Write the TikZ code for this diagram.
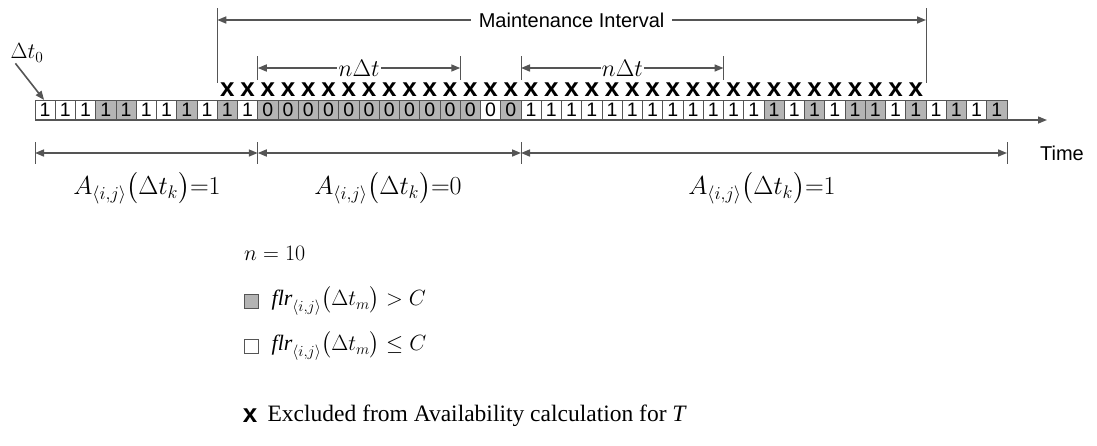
\RequirePackage{fix-cm}
\documentclass[tikz,border=0pt]{standalone}
\usepackage{amsmath,amssymb}
\usepackage{fontspec}
\setmainfont{Liberation Serif}
\newfontfamily\arialfont{Liberation Sans}
\usepackage{tikz}
\usetikzlibrary{positioning, arrows.meta, calc}

\definecolor{cellgray}{RGB}{180,180,180}
\definecolor{linegray}{RGB}{85,85,85}

\begin{document}
\begin{tikzpicture}[
  x=1pt, y=-1pt,
  cell/.style   = {draw=linegray, line width=0.9pt, minimum width=20.25pt,
                   minimum height=20pt, inner sep=0pt, outer sep=0pt,
                   font=\arialfont\fontsize{19.5}{20}\selectfont},
  hi/.style     = {fill=cellgray},
  lo/.style     = {fill=white},
  legbox/.style = {draw=linegray, line width=0.9pt, minimum size=14pt,
                   inner sep=0pt},
  xmark/.style  = {font=\arialfont\bfseries\fontsize{26}{26}\selectfont,
                   inner sep=0pt},
  eq/.style     = {font=\fontsize{22}{26}\selectfont, inner sep=1pt},
  bigeq/.style  = {font=\fontsize{26}{30}\selectfont, inner sep=1pt},
  note/.style   = {font=\fontsize{23.5}{28}\selectfont, inner sep=1pt},
  sans/.style   = {font=\arialfont\fontsize{20}{24}\selectfont},
  gap/.style    = {fill=white, text=black, inner xsep=8pt, inner ysep=0pt},
  tick/.style   = {linegray, line width=0.9pt},
  dim/.style    = {{Triangle[length=9pt,width=7pt]}-{Triangle[length=9pt,width=7pt]},
                   linegray, line width=1.6pt},
  ptr/.style    = {-{Triangle[length=9pt,width=7pt]}, linegray, line width=1.6pt},
]
\useasboundingbox (0,0) rectangle (1097,445);

% --- time slots ----------------------------------------------------------
\foreach \v/\f [count=\k] in {1/lo,1/lo,1/lo,1/hi,1/hi,1/lo,1/lo,1/hi,1/lo,1/hi,1/lo,
    0/hi,0/hi,0/hi,0/hi,0/hi,0/hi,0/hi,0/hi,0/hi,0/hi,0/hi,0/lo,0/hi,
    1/lo,1/lo,1/lo,1/lo,1/lo,1/lo,1/lo,1/lo,1/lo,1/lo,1/lo,1/lo,
    1/hi,1/lo,1/hi,1/lo,1/hi,1/hi,1/lo,1/hi,1/lo,1/hi,1/lo,1/hi}
  \node[cell,\f] (c\k) at ({35+(\k-0.5)*20.25},110) {\v};

\coordinate (t-end) at (1047,120);
\draw[ptr, line width=1.4pt] (c1.south west) -- (t-end);

% --- excluded slots ------------------------------------------------------
\foreach \k in {10,...,44}
  \node[xmark, anchor=base] (x\k) at ($(c\k.north)+(0,-4)$) {x};

% --- maintenance interval ------------------------------------------------
\coordinate (mi-l) at (217.25,20);
\coordinate (mi-r) at (926,20);
\draw[tick] ($(mi-l)+(0,-12)$) -- ($(mi-l)+(0,63)$);
\draw[tick] ($(mi-r)+(0,-12)$) -- ($(mi-r)+(0,63)$);
\draw[dim] (mi-l) -- node[gap, sans] {Maintenance Interval} (mi-r);

% --- n delta t -----------------------------------------------------------
\coordinate (n1-l) at (257.75,68);
\coordinate (n1-r) at (460.25,68);
\coordinate (n2-l) at (521,68);
\coordinate (n2-r) at (723.5,68);
\foreach \p in {n1-l,n1-r,n2-l,n2-r}
  \draw[tick] ($(\p)+(0,-12)$) -- ($(\p)+(0,12)$);
\draw[dim] (n1-l) -- node[gap, eq, font=\fontsize{24}{26}\selectfont] {$n\Delta t$} (n1-r);
\draw[dim] (n2-l) -- node[gap, eq, font=\fontsize{24}{26}\selectfont] {$n\Delta t$} (n2-r);

% --- first slot ----------------------------------------------------------
\node[eq] (dt0) at (27,53) {$\Delta t_0$};
\draw[ptr] ([xshift=6pt]dt0.south west) -- ([xshift=-1pt]c1.north);

% --- availability --------------------------------------------------------
\foreach \p [count=\i] in {35,257.75,521,1007} {
  \coordinate (d\i) at (\p,153);
  \draw[tick] ($(d\i)+(0,-11)$) -- ($(d\i)+(0,11)$);
}
\draw[dim] (d1) -- (d2);
\draw[dim] (d2) -- (d3);
\draw[dim] (d3) -- (d4);
\node[bigeq] (av1) at (147,188) {$A_{\langle i,j\rangle}\bigl(\Delta t_k\bigr){=}1$};
\node[bigeq] (av0) at (388,188) {$A_{\langle i,j\rangle}\bigl(\Delta t_k\bigr){=}0$};
\node[bigeq] (av2) at (762,188) {$A_{\langle i,j\rangle}\bigl(\Delta t_k\bigr){=}1$};
\node[sans] (time) at (1062,153) {Time};

% --- legend --------------------------------------------------------------
\node[eq, anchor=west] (nval) at (243,253) {$n=10$};
\node[legbox, hi] (kg) at (251,301) {};
\node[eq, right=12pt of kg] (kgt) {$\textit{flr}_{\langle i,j\rangle}\bigl(\Delta t_m\bigr)>C$};
\node[legbox, lo] (kw) at (251,346) {};
\node[eq, right=12pt of kw] (kwt) {$\textit{flr}_{\langle i,j\rangle}\bigl(\Delta t_m\bigr)\le C$};
\node[xmark] (kx) at (250,416) {x};
\node[note, right=9pt of kx] (kxt) {Excluded from Availability calculation for \textit{T}};

\end{tikzpicture}
\end{document}
